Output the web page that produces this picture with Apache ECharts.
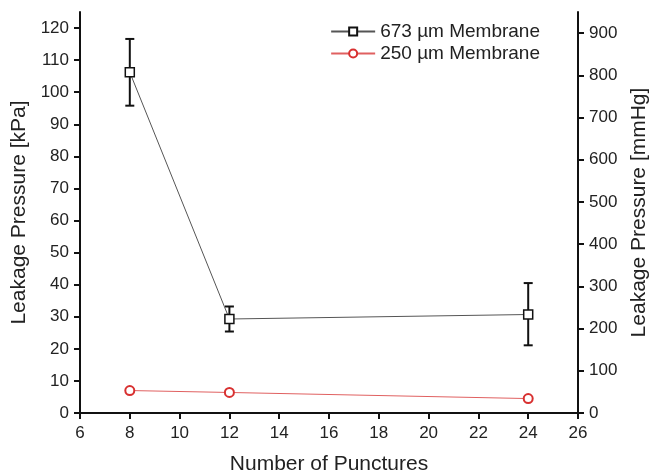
<!DOCTYPE html>
<html><head><meta charset="utf-8">
<script src="https://cdn.jsdelivr.net/npm/echarts@6/dist/echarts.min.js"></script>
<style>html,body{margin:0;padding:0;background:#fff}#c{width:649px;height:471px}</style>
</head><body><div id="c"></div>
<script>
const punctures = [8, 12, 24];
const thickValues = [106.2, 29.3, 30.7];
const thickLow = [95.8, 25.4, 21.1];
const thickHigh = [116.6, 33.2, 40.5];
const thinValues = [7.0, 6.4, 4.5];
const seriesNames = ['673 µm Membrane', '250 µm Membrane'];
const xTicks = [6, 8, 10, 12, 14, 16, 18, 20, 22, 24, 26];
const kPaTicks = [0, 10, 20, 30, 40, 50, 60, 70, 80, 90, 100, 110, 120];
const mmHgTicks = [0, 100, 200, 300, 400, 500, 600, 700, 800, 900];

const FONT = 'Liberation Sans, Arial, sans-serif';
function axisLine() { return {show: true, onZero: false, lineStyle: {color: '#111', width: 2}}; }
function tick(vals) { return {show: true, length: 6, customValues: vals, lineStyle: {color: '#111', width: 2}}; }
const chart = echarts.init(document.getElementById('c'));
chart.setOption({
  animation: false,
  grid: {left: 80, right: 71, top: 12, bottom: 58, containLabel: false, outerBoundsMode: 'none'},
  legend: {
    right: 104, top: 17, orient: 'vertical', itemGap: 3, itemWidth: 44, itemHeight: 10,
    textStyle: {fontFamily: FONT, fontSize: 19, color: '#222'},
    data: seriesNames
  },
  xAxis: {
    type: 'value', min: 6, max: 26, interval: 2,
    name: 'Number of Punctures', nameLocation: 'middle', nameGap: 41,
    nameTextStyle: {fontFamily: FONT, fontSize: 21, color: '#222'},
    axisLine: axisLine(), splitLine: {show: false},
    axisTick: tick(xTicks),
    axisLabel: {fontFamily: FONT, fontSize: 17, color: '#222', margin: 12,
      customValues: xTicks}
  },
  yAxis: [{
    type: 'value', min: 0, max: 125, position: 'left',
    name: 'Leakage Pressure [kPa]', nameLocation: 'middle', nameGap: 49,
    nameTextStyle: {fontFamily: FONT, fontSize: 21, color: '#222'},
    axisLine: axisLine(), splitLine: {show: false},
    axisTick: tick(kPaTicks),
    axisLabel: {fontFamily: FONT, fontSize: 17, color: '#222', margin: 11, customValues: kPaTicks}
  }, {
    type: 'value', min: 0, max: 950, position: 'right',
    name: 'Leakage Pressure [mmHg]', nameLocation: 'middle', nameGap: 50,
    nameRotate: 90,
    nameTextStyle: {fontFamily: FONT, fontSize: 21, color: '#222'},
    axisLine: axisLine(), splitLine: {show: false},
    axisTick: tick(mmHgTicks),
    axisLabel: {fontFamily: FONT, fontSize: 17, color: '#222', margin: 11, customValues: mmHgTicks}
  }],
  series: [{
    name: seriesNames[0], type: 'line', yAxisIndex: 0,
    data: punctures.map((x, i) => [x, thickValues[i]]),
    symbol: 'rect', symbolSize: 9,
    lineStyle: {color: '#555', width: 1},
    itemStyle: {color: '#fff', borderColor: '#111', borderWidth: 1.5},
    z: 3
  }, {
    name: seriesNames[0] + ' err', type: 'custom', yAxisIndex: 0,
    data: punctures.map((x, i) => [x, thickLow[i], thickHigh[i]]),
    renderItem: function (params, api) {
      const lo = api.coord([api.value(0), api.value(1)]);
      const hi = api.coord([api.value(0), api.value(2)]);
      const w = 4.5;
      const st = {stroke: '#111', lineWidth: 2};
      return {type: 'group', children: [
        {type: 'line', shape: {x1: lo[0], y1: lo[1], x2: hi[0], y2: hi[1]}, style: st},
        {type: 'line', shape: {x1: lo[0] - w, y1: lo[1], x2: lo[0] + w, y2: lo[1]}, style: st},
        {type: 'line', shape: {x1: hi[0] - w, y1: hi[1], x2: hi[0] + w, y2: hi[1]}, style: st}
      ]};
    },
    z: 2
  }, {
    name: seriesNames[1], type: 'line', yAxisIndex: 0,
    data: punctures.map((x, i) => [x, thinValues[i]]),
    symbol: 'circle', symbolSize: 9,
    lineStyle: {color: '#e06060', width: 1},
    itemStyle: {color: '#fff', borderColor: '#d83030', borderWidth: 2},
    z: 3
  }]
});
</script></body></html>
